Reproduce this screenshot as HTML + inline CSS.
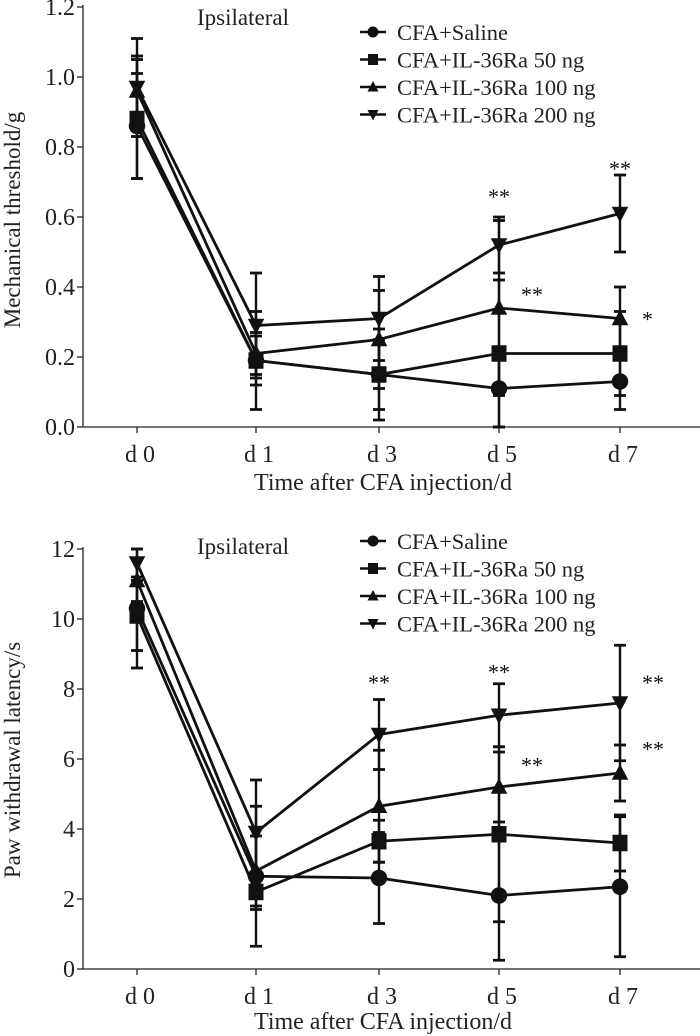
<!DOCTYPE html>
<html><head><meta charset="utf-8"><style>
html,body{margin:0;padding:0;background:#fff;}
svg{display:block;font-family:"Liberation Serif",serif;}
</style></head><body>
<svg id="fig" width="700" height="1036" viewBox="0 0 700 1036" xmlns="http://www.w3.org/2000/svg"></svg>
<script>
const categories = ["d 0","d 1","d 3","d 5","d 7"];
const seriesNames = ["CFA+Saline","CFA+IL-36Ra 50 ng","CFA+IL-36Ra 100 ng","CFA+IL-36Ra 200 ng"];
// top chart: mechanical threshold
const mechSaline = [0.86,0.19,0.15,0.11,0.13];
const mechSalineErr = [0.15,0.14,0.13,0.11,0.08];
const mech50 = [0.88,0.19,0.15,0.21,0.21];
const mech50Err = [0.17,0.07,0.10,0.21,0.12];
const mech100 = [0.96,0.21,0.25,0.34,0.31];
const mech100Err = [0.10,0.06,0.14,0.25,0.09];
const mech200 = [0.97,0.29,0.31,0.52,0.61];
const mech200Err = [0.14,0.15,0.12,0.08,0.11];
const mechTicks = ["0.0","0.2","0.4","0.6","0.8","1.0","1.2"];
// bottom chart: paw withdrawal latency
const pawSaline = [10.3,2.65,2.6,2.1,2.35];
const pawSalineErr = [1.7,2.0,1.3,1.85,2.0];
const paw50 = [10.1,2.2,3.65,3.85,3.6];
const paw50Err = [1.0,0.5,0.6,2.5,0.8];
const paw100 = [11.1,2.8,4.65,5.2,5.6];
const paw100Err = [0.6,1.0,1.6,1.0,0.8];
const paw200 = [11.6,3.9,6.7,7.25,7.6];
const paw200Err = [0.4,1.5,1.0,0.9,1.65];
const pawTicks = ["0","2","4","6","8","10","12"];
// significance marks: [category index, value, label, right offset flag]
const mechStars = [[3,0.66,"**",0],[4,0.74,"**",0],[3,0.38,"**",1],[4,0.31,"*",1]];
const pawStars = [[2,8.2,"**",0],[3,8.5,"**",0],[4,8.2,"**",1],[3,5.85,"**",1],[4,6.3,"**",1]];

const NS="http://www.w3.org/2000/svg";
const svg=document.getElementById('fig');
function mk(tag,attrs,parent,text){const e=document.createElementNS(NS,tag);for(const k in attrs)e.setAttribute(k,attrs[k]);if(text!==undefined)e.textContent=text;(parent||svg).appendChild(e);return e;}
const catX=[137,256,379,499,620];
function xPos(i){return catX[i];}

function marker(g,type,x,y,s){
  let e;
  if(type===0) e=mk('circle',{cx:x,cy:y,r:s*0.55,fill:'#111'},g);
  else if(type===1) e=mk('rect',{x:x-s*0.5,y:y-s*0.55,width:s,height:s*1.1,fill:'#111'},g);
  else if(type===2) e=mk('polygon',{points:`${x},${y-s*0.6} ${x-s*0.55},${y+s*0.45} ${x+s*0.55},${y+s*0.45}`,fill:'#111'},g);
  else e=mk('polygon',{points:`${x},${y+s*0.6} ${x-s*0.55},${y-s*0.45} ${x+s*0.55},${y-s*0.45}`,fill:'#111'},g);
  return e;
}

function chart(opt){
  const g=mk('g',{});
  
  
  const y0=opt.y0, yTop=opt.yTop, max=opt.max;
  const yPos=v=>y0-(v/max)*(y0-yTop);
  const ax=mk('line',{x1:83,y1:y0,x2:700,y2:y0,stroke:'#222','stroke-width':1.3},g);
  
  const ay=mk('line',{x1:83,y1:y0,x2:83,y2:yTop-2,stroke:'#222','stroke-width':1.3},g);
  
  opt.ticks.forEach((t,i)=>{
    const v=max*i/(opt.ticks.length-1), y=yPos(v);
    mk('line',{x1:77,y1:y,x2:83,y2:y,stroke:'#222','stroke-width':1.3},g);
    const tl=mk('text',{x:75,y:y+8,'text-anchor':'end','font-size':24,fill:'#222'},g,t);
    
  });
  categories.forEach((c,i)=>{
    const x=xPos(i);
    mk('line',{x1:x,y1:y0,x2:x,y2:y0+6,stroke:'#222','stroke-width':1.3},g);
    const tl=mk('text',{x:x+3,y:y0+35,'text-anchor':'middle','font-size':24,fill:'#222'},g,c);
    
  });
  const xt=mk('text',{x:383,y:y0+opt.xtOff,'text-anchor':'middle','font-size':24,fill:'#222'},g,'Time after CFA injection/d');
  
  const cy=opt.ytY;
  const yt=mk('text',{x:20,y:cy,'text-anchor':'middle','font-size':23,fill:'#222',transform:`rotate(-90 20 ${cy})`},g,opt.ytitle);
  
  const ip=mk('text',{x:197,y:opt.ipY,'font-size':23,fill:'#222'},g,'Ipsilateral');
  
  opt.series.forEach((s,k)=>{
    const sg=mk('g',{},g);
    
    
    const vals=s[0], errs=s[1];
    vals.forEach((v,i)=>{
      const x=xPos(i), yh=yPos(v+errs[i]), yl=yPos(Math.max(0,v-errs[i]));
      mk('line',{x1:x,y1:yh,x2:x,y2:yl,stroke:'#111','stroke-width':2.4},sg);
      mk('line',{x1:x-6,y1:yh,x2:x+6,y2:yh,stroke:'#111','stroke-width':2.8},sg);
      mk('line',{x1:x-6,y1:yl,x2:x+6,y2:yl,stroke:'#111','stroke-width':2.8},sg);
    });
    const pts=vals.map((v,i)=>xPos(i)+','+yPos(v)).join(' ');
    const pl=mk('polyline',{points:pts,fill:'none',stroke:'#111','stroke-width':2.8},sg);
    
    vals.forEach((v,i)=>{
      const m=marker(sg,k,xPos(i),yPos(v),15);
      
      
    });
  });
  opt.stars.forEach(s=>{
    const x=xPos(s[0])+(s[3]?22:0);
    const t=mk('text',{x:x,y:yPos(s[1])+8,'text-anchor':s[3]?'start':'middle','font-size':22,fill:'#111'},g,s[2]);
    
  });
  const lg=mk('g',{},g);
  
  seriesNames.forEach((n,k)=>{
    const y=opt.legY+k*27.5;
    const eg=mk('g',{},lg);
    
    mk('line',{x1:360,y1:y,x2:386,y2:y,stroke:'#111','stroke-width':2.4},eg);
    marker(eg,k,373,y,10);
    mk('text',{x:397,y:y+8,'font-size':22.5,fill:'#222'},eg,n);
  });
}

chart({name:'mechanical-threshold-chart',y0:427,yTop:7,max:1.2,ticks:mechTicks,ytitle:'Mechanical threshold/g',ipY:25,legY:32,xtOff:63,ytY:220,
  series:[[mechSaline,mechSalineErr],[mech50,mech50Err],[mech100,mech100Err],[mech200,mech200Err]],stars:mechStars});
chart({name:'paw-withdrawal-latency-chart',y0:969,yTop:549,max:12,ticks:pawTicks,ytitle:'Paw withdrawal latency/s',ipY:554,legY:541,xtOff:60,ytY:760,
  series:[[pawSaline,pawSalineErr],[paw50,paw50Err],[paw100,paw100Err],[paw200,paw200Err]],stars:pawStars});
</script>
</body></html>
